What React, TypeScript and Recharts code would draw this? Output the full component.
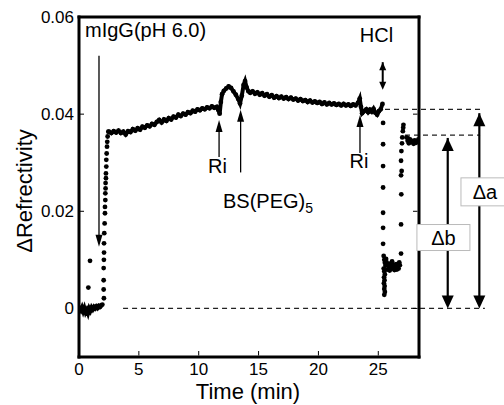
import { ReferenceDot, ReferenceLine, Scatter, ScatterChart, XAxis, YAxis } from "recharts";

/*
 * SPR sensorgram: mIgG binding, two rinses, BS(PEG)5 cross-link, HCl regeneration.
 * Black-on-white journal figure with a boxed frame, inward ticks and Δa / Δb
 * brackets drawn outside the plot on the right.
 */

const FONT = '"Liberation Sans", Arial, Helvetica, sans-serif';
const INK = "#000";

type Pt = [number, number]; // [time (min), ΔRefrectivity]

const BASELINE: Pt[] = [
  [0.05, 0.0], [0.15, -0.0004], [0.25, 0.0002], [0.35, -0.0006], [0.45, 0.0001], [0.55, -0.0008],
  [0.65, -0.0003], [0.75, -0.001], [0.85, 0.0], [0.95, -0.0005], [1.05, 0.0002], [1.15, -0.0002],
  [1.25, 0.0003], [1.35, 0.0], [1.45, 0.0004], [1.55, 0.0001], [1.65, 0.0005], [1.75, 0.0003],
  [1.85, 0.0006], [1.95, 0.0008],
];

const INJECTION_SPIKES: Pt[] = [[0.78, 0.0043], [0.92, 0.0098]];

const ASSOCIATION: Pt[] = [
  [2.08, 0.0021], [2.06, 0.0039], [2.06, 0.0058], [2.06, 0.0083], [2.08, 0.01], [2.09, 0.0115],
  [2.09, 0.0134], [2.11, 0.0155], [2.14, 0.0175], [2.17, 0.0196], [2.17, 0.0209], [2.2, 0.0223],
  [2.2, 0.0237], [2.22, 0.0247], [2.22, 0.0258], [2.25, 0.0268], [2.25, 0.0278], [2.28, 0.0292],
  [2.28, 0.0306], [2.31, 0.0319], [2.34, 0.0333], [2.36, 0.0343], [2.39, 0.0354], [2.45, 0.0364],
];

const PLATEAU: Pt[] = [
  [2.5, 0.0364], [2.7, 0.0361], [2.9, 0.0365], [3.1, 0.0362], [3.3, 0.0366], [3.5, 0.0361],
  [3.7, 0.0364], [3.9, 0.0358], [4.1, 0.0365], [4.3, 0.0363], [4.5, 0.0369], [4.7, 0.0366],
  [4.9, 0.0371], [5.1, 0.0368], [5.3, 0.0374], [5.5, 0.0372], [5.7, 0.0377], [5.9, 0.0375],
  [6.1, 0.038], [6.3, 0.0378], [6.5, 0.0384], [6.7, 0.0388], [6.9, 0.0383], [7.1, 0.0389],
  [7.3, 0.0386], [7.5, 0.0392], [7.7, 0.0389], [7.9, 0.0395], [8.1, 0.0393], [8.3, 0.0399],
  [8.5, 0.0396], [8.7, 0.0401], [8.9, 0.0399], [9.1, 0.0404], [9.3, 0.0402], [9.5, 0.0407],
  [9.7, 0.0405], [9.9, 0.041], [10.1, 0.0408], [10.3, 0.0412], [10.5, 0.041], [10.7, 0.0414],
  [10.9, 0.0412], [11.1, 0.0416], [11.3, 0.0413], [11.5, 0.0415], [11.65, 0.0408], [11.75, 0.0401],
  [11.85, 0.0425], [11.95, 0.0441], [12.1, 0.0448], [12.3, 0.0453], [12.5, 0.0457], [12.7, 0.0454],
  [12.9, 0.0447], [13.1, 0.044], [13.3, 0.0431], [13.45, 0.0422], [13.6, 0.0438], [13.75, 0.046],
  [13.87, 0.0468], [14.0, 0.0455], [14.15, 0.0447], [14.3, 0.0444], [14.5, 0.0447], [14.7, 0.0442],
  [14.9, 0.0445], [15.1, 0.044], [15.3, 0.0443], [15.5, 0.0438], [15.7, 0.0441], [15.9, 0.0436],
  [16.1, 0.0439], [16.3, 0.0434], [16.5, 0.0437], [16.7, 0.0433], [16.9, 0.0436], [17.1, 0.0432],
  [17.3, 0.0435], [17.5, 0.0431], [17.7, 0.0434], [17.9, 0.043], [18.1, 0.0432], [18.3, 0.0428],
  [18.5, 0.0431], [18.7, 0.0427], [18.9, 0.0429], [19.1, 0.0425], [19.3, 0.0428], [19.5, 0.0424],
  [19.7, 0.0426], [19.9, 0.0423], [20.1, 0.0425], [20.3, 0.0421], [20.5, 0.0424], [20.7, 0.042],
  [20.9, 0.0423], [21.1, 0.042], [21.3, 0.0422], [21.5, 0.0419], [21.7, 0.0421], [21.9, 0.0418],
  [22.1, 0.0421], [22.3, 0.0418], [22.5, 0.042], [22.7, 0.0417], [22.9, 0.042], [23.1, 0.0418],
  [23.3, 0.0423], [23.45, 0.0432], [23.55, 0.0415], [23.65, 0.0402], [23.8, 0.0406], [24.0, 0.041],
  [24.15, 0.0404], [24.3, 0.0409], [24.45, 0.0405], [24.6, 0.0411], [24.75, 0.0403], [24.9, 0.0399],
  [25.05, 0.0406], [25.2, 0.041], [25.35, 0.0421],
];

const HCL_DROP: Pt[] = [
  [25.4, 0.0382], [25.4, 0.0338], [25.4, 0.0293], [25.4, 0.0249], [25.4, 0.0197], [25.4, 0.0166],
  [25.4, 0.0133], [25.45, 0.0108], [25.5, 0.01], [25.55, 0.0094], [25.6, 0.0088], [25.45, 0.0082],
  [25.5, 0.0076], [25.55, 0.007], [25.48, 0.0064], [25.52, 0.0058], [25.47, 0.0052], [25.53, 0.0046],
  [25.5, 0.004], [25.55, 0.0034], [25.5, 0.0028],
];

const REGEN_LEVEL: Pt[] = [
  [25.65, 0.0102], [25.7, 0.0095], [25.75, 0.008], [25.8, 0.009], [25.9, 0.0086], [25.95, 0.0078],
  [26.0, 0.0092], [26.05, 0.0081], [26.1, 0.0088], [26.15, 0.0097], [26.2, 0.0083], [26.3, 0.009],
  [26.35, 0.0079], [26.4, 0.0086], [26.5, 0.0091], [26.55, 0.008], [26.6, 0.0087], [26.7, 0.0082],
  [26.75, 0.0095], [26.8, 0.0089], [26.9, 0.0113], [26.9, 0.0173],
];

const RECOVERY: Pt[] = [
  [26.92, 0.0235], [26.9, 0.0274], [26.95, 0.0283], [26.9, 0.0304], [26.93, 0.0324], [26.98, 0.034],
  [27.0, 0.0352], [27.05, 0.0365], [27.08, 0.0372], [27.1, 0.0378],
];

const FINAL_LEVEL: Pt[] = [
  [27.35, 0.0352], [27.45, 0.0345], [27.5, 0.035], [27.55, 0.034], [27.65, 0.0348], [27.75, 0.0342],
  [27.85, 0.0345], [27.95, 0.0339], [28.05, 0.0346], [28.15, 0.0341], [28.25, 0.0344], [28.35, 0.0348],
];

const X_TICKS = [0, 5, 10, 15, 20, 25];
const Y_TICKS = [0, 0.02, 0.04, 0.06];

// event arrows: time, tail, tip
const EVENT_ARROWS = [
  { t: 1.67, from: 0.052, to: 0.0127 },
  { t: 11.7, from: 0.0312, to: 0.0388 },
  { t: 13.5, from: 0.028, to: 0.0409 },
  { t: 23.47, from: 0.032, to: 0.0398 },
];
const HCL_ARROW = { t: 25.37, from: 0.0507, to: 0.045 };

const EVENT_LABELS = [
  { t: 0.5, v: 0.0559, text: "mIgG(pH 6.0)", anchor: "start" },
  { t: 24.85, v: 0.0549, text: "HCl", anchor: "middle" },
  { t: 11.57, v: 0.0279, text: "Ri", anchor: "middle" },
  { t: 23.39, v: 0.0289, text: "Ri", anchor: "middle" },
];
const BS_LABEL = { t: 12.03, v: 0.0206 };

// level guides and Δ brackets (outside the right frame)
const GUIDES = [
  { v: 0.041, from: 25.56, to: 33.64 },
  { v: 0.0357, from: 27.23, to: 33.5 },
  { v: 0, from: 3.68, to: 33.9 },
];
const BRACKETS = [
  { t: 33.44, top: 0.0402, label: "Δa", lt: 33.91, lv: 0.024, w: 48, h: 28 },
  { t: 30.8, top: 0.0351, label: "Δb", lt: 30.44, lv: 0.0146, w: 53, h: 26 },
];

const toRows = (pts: Pt[]) => pts.map(([t, v]) => ({ t, v }));

const fmtY = (v: number) => (v === 0 ? "0" : v.toFixed(2));

const dot = (p: any) => <circle cx={p.cx} cy={p.cy} r={2.4} fill={INK} />;

function arrowShape(width: number, headLen: number, headHalf: number, both: boolean) {
  return (p: any) => {
    const { x1, y1, x2, y2 } = p;
    const len = Math.hypot(x2 - x1, y2 - y1) || 1;
    const ux = (x2 - x1) / len;
    const uy = (y2 - y1) / len;
    const head = (tx: number, ty: number, dx: number, dy: number) => {
      const bx = tx - dx * headLen;
      const by = ty - dy * headLen;
      return `${tx},${ty} ${bx - dy * headHalf},${by + dx * headHalf} ${bx + dy * headHalf},${by - dx * headHalf}`;
    };
    return (
      <g>
        <line x1={x1} y1={y1} x2={x2 - ux * headLen * 0.8} y2={y2 - uy * headLen * 0.8} stroke={INK} strokeWidth={width} />
        <polygon points={head(x2, y2, ux, uy)} fill={INK} />
        {both && <polygon points={head(x1, y1, -ux, -uy)} fill={INK} />}
      </g>
    );
  };
}

function LeftTick(p: any) {
  return (
    <g>
      <line x1={p.x + 5} y1={p.y} x2={p.x + 10} y2={p.y} stroke={INK} strokeWidth={1} />
      <text x={p.x} y={p.y} dy="0.35em" textAnchor="end" fontSize={17} fontFamily={FONT} fill={INK}>
        {fmtY(p.payload.value)}
      </text>
    </g>
  );
}

function BottomTick(p: any) {
  return (
    <g>
      <line x1={p.x} y1={p.y - 7.5} x2={p.x} y2={p.y - 12} stroke={INK} strokeWidth={1} />
      <text x={p.x} y={p.y} dy="0.72em" textAnchor="middle" fontSize={17} fontFamily={FONT} fill={INK}>
        {p.payload.value}
      </text>
    </g>
  );
}

const TopTick = (p: any) => <line x1={p.x} y1={p.y + 1.5} x2={p.x} y2={p.y + 6} stroke={INK} strokeWidth={1} />;
const RightTick = (p: any) => <line x1={p.x - 1.5} y1={p.y} x2={p.x - 6} y2={p.y} stroke={INK} strokeWidth={1} />;

const frame = { stroke: INK, strokeWidth: 3, strokeLinecap: "square" } as const;
const band = { stroke: INK, strokeWidth: 4 };

export default function App() {
  return (
    <div style={{ position: "absolute", left: 0, top: 0, width: 504, height: 405, background: "#fff" }}>
      <ScatterChart width={504} height={405} margin={{ top: 7, right: 75, bottom: 0, left: 19 }}>
        <XAxis
          type="number"
          dataKey="t"
          domain={[0, 28.4]}
          allowDataOverflow
          ticks={X_TICKS}
          interval={0}
          height={48}
          tickSize={0}
          tickMargin={6}
          axisLine={frame}
          tick={BottomTick}
          label={(p: any) => {
            const vb = p.viewBox;
            return (
              <text x={vb.x + vb.width / 2 - 1} y={vb.y + 42} textAnchor="middle" fontSize={22} fontFamily={FONT} fill={INK}>
                Time (min)
              </text>
            );
          }}
        />
        <XAxis
          xAxisId="top"
          orientation="top"
          type="number"
          domain={[0, 28.4]}
          allowDataOverflow
          ticks={X_TICKS}
          interval={0}
          height={10}
          tickSize={0}
          tickMargin={0}
          axisLine={frame}
          tick={TopTick}
        />
        <YAxis
          type="number"
          dataKey="v"
          domain={[-0.01, 0.06]}
          allowDataOverflow
          ticks={Y_TICKS}
          interval={0}
          width={60}
          tickSize={0}
          tickMargin={5}
          axisLine={frame}
          tick={LeftTick}
          label={(p: any) => {
            const vb = p.viewBox;
            const cx = vb.x + 5;
            const cy = vb.y + vb.height / 2 + 4;
            return (
              <text
                x={cx}
                y={cy}
                transform={`rotate(-90 ${cx} ${cy})`}
                textAnchor="middle"
                dominantBaseline="central"
                fontSize={22}
                fontFamily={FONT}
                fill={INK}
              >
                ΔRefrectivity
              </text>
            );
          }}
        />
        <YAxis
          yAxisId="right"
          orientation="right"
          type="number"
          domain={[-0.01, 0.06]}
          allowDataOverflow
          ticks={Y_TICKS}
          interval={0}
          width={10}
          tickSize={0}
          tickMargin={0}
          axisLine={frame}
          tick={RightTick}
        />

        {GUIDES.map((g, i) => (
          <ReferenceLine
            key={`g${i}`}
            segment={[{ x: g.from, y: g.v }, { x: g.to, y: g.v }]}
            stroke="#222"
            strokeWidth={1.3}
            strokeDasharray="5 4"
            ifOverflow="visible"
          />
        ))}

        <Scatter data={toRows(BASELINE)} shape={dot} line={band} isAnimationActive={false} />
        <Scatter data={toRows(INJECTION_SPIKES)} shape={dot} isAnimationActive={false} />
        <Scatter data={toRows(ASSOCIATION)} shape={dot} isAnimationActive={false} />
        <Scatter data={toRows(PLATEAU)} shape={dot} line={band} isAnimationActive={false} />
        <Scatter data={toRows(HCL_DROP)} shape={dot} isAnimationActive={false} />
        <Scatter data={toRows(REGEN_LEVEL)} shape={dot} isAnimationActive={false} />
        <Scatter data={toRows(RECOVERY)} shape={dot} isAnimationActive={false} />
        <Scatter data={toRows(FINAL_LEVEL)} shape={dot} isAnimationActive={false} />

        {EVENT_ARROWS.map((a, i) => (
          <ReferenceLine
            key={`a${i}`}
            segment={[{ x: a.t, y: a.from }, { x: a.t, y: a.to }]}
            shape={arrowShape(1.3, 12, 3.5, false)}
            ifOverflow="visible"
          />
        ))}
        <ReferenceLine
          segment={[{ x: HCL_ARROW.t, y: HCL_ARROW.from }, { x: HCL_ARROW.t, y: HCL_ARROW.to }]}
          shape={arrowShape(2, 8, 3.5, true)}
          ifOverflow="visible"
        />

        {BRACKETS.map((b) => (
          <ReferenceLine
            key={b.label}
            segment={[{ x: b.t, y: b.top }, { x: b.t, y: 0 }]}
            shape={arrowShape(2.2, 13, 6, true)}
            ifOverflow="visible"
          />
        ))}
        {BRACKETS.map((b) => (
          <ReferenceDot
            key={`${b.label}-box`}
            x={b.lt}
            y={b.lv}
            ifOverflow="visible"
            shape={(p: any) => (
              <g>
                <rect x={p.cx - b.w / 2} y={p.cy - b.h / 2} width={b.w} height={b.h} fill="#fff" stroke="#bbb" strokeWidth={1} />
                <text x={p.cx} y={p.cy} dy="0.36em" textAnchor="middle" fontSize={20} fontFamily={FONT} fill={INK}>
                  {b.label}
                </text>
              </g>
            )}
          />
        ))}

        {EVENT_LABELS.map((l, i) => (
          <ReferenceDot
            key={`l${i}`}
            x={l.t}
            y={l.v}
            ifOverflow="visible"
            shape={(p: any) => (
              <text x={p.cx} y={p.cy} textAnchor={l.anchor as any} fontSize={20} fontFamily={FONT} fill={INK}>
                {l.text}
              </text>
            )}
          />
        ))}
        <ReferenceDot
          x={BS_LABEL.t}
          y={BS_LABEL.v}
          ifOverflow="visible"
          shape={(p: any) => (
            <text x={p.cx} y={p.cy} fontSize={20} fontFamily={FONT} fill={INK}>
              BS(PEG)
              <tspan dy={5} fontSize={14}>
                5
              </tspan>
            </text>
          )}
        />
      </ScatterChart>
    </div>
  );
}
